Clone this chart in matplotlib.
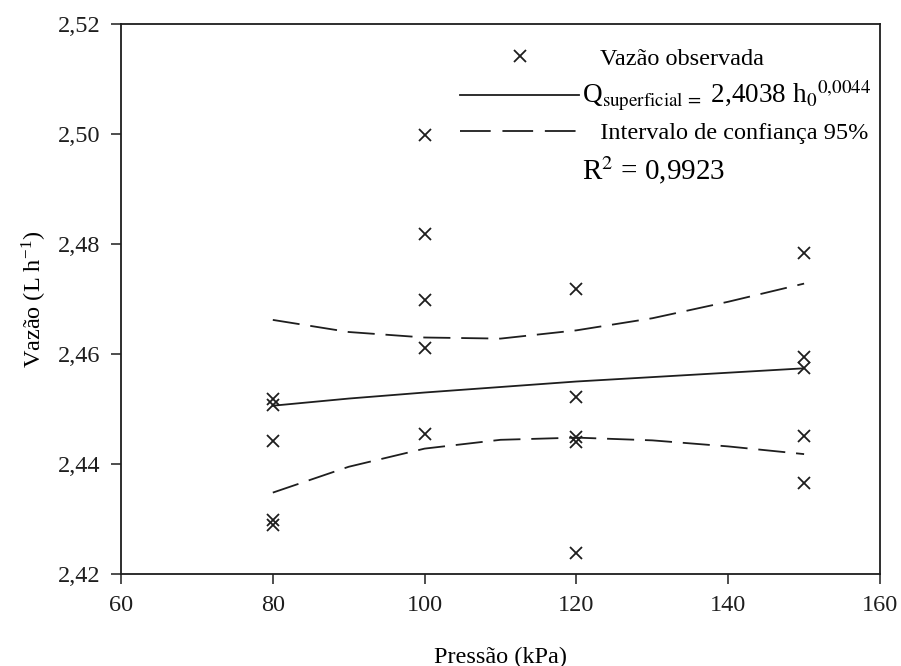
import matplotlib
matplotlib.use("Agg")
import matplotlib.pyplot as plt
from matplotlib.lines import Line2D
from matplotlib.ticker import FuncFormatter

plt.rcParams['font.family'] = ['Liberation Serif', 'DejaVu Serif']
plt.rcParams['mathtext.fontset'] = 'stix'

# observed flow (L/h) per pressure (kPa)
obs_x = [80, 80, 80, 80, 80,
         100, 100, 100, 100, 100,
         120, 120, 120, 120, 120,
         150, 150, 150, 150, 150]
obs_y = [2.4519, 2.4507, 2.4441, 2.4299, 2.4289,
         2.4998, 2.4818, 2.4698, 2.4611, 2.4454,
         2.4718, 2.4521, 2.4450, 2.4440, 2.4239,
         2.4784, 2.4595, 2.4574, 2.4451, 2.4365]

# fitted curve and 95% confidence band
fit_x = [80, 90, 100, 110, 120, 130, 140, 150]
fit_y = [2.4506, 2.4519, 2.4530, 2.4540, 2.4550, 2.4558, 2.4566, 2.4574]
ci_up = [2.4662, 2.4640, 2.4630, 2.4628, 2.4643, 2.4665, 2.4695, 2.4728]
ci_lo = [2.4348, 2.4395, 2.4428, 2.4444, 2.4448, 2.4443, 2.4432, 2.4418]

xticks = [60, 80, 100, 120, 140, 160]
yticks = [2.42, 2.44, 2.46, 2.48, 2.50, 2.52]

ink = '#1e1e1e'
fig = plt.figure(figsize=(9.01, 6.66), dpi=100)
ax = fig.add_axes([0.1343, 0.1381, 0.8424, 0.8259])

ax.plot(obs_x, obs_y, linestyle='none', marker='x', ms=9, mew=1.3, color=ink)
ax.plot(fit_x, fit_y, color=ink, lw=1.3)
ax.plot(fit_x, ci_up, color=ink, lw=1.3, dashes=(15, 6))
ax.plot(fit_x, ci_lo, color=ink, lw=1.3, dashes=(15, 6))

ax.set_xlim(60, 160)
ax.set_ylim(2.42, 2.52)
ax.set_xticks(xticks)
ax.set_yticks(yticks)
ax.yaxis.set_major_formatter(FuncFormatter(lambda v, p: ('%.2f' % v).replace('.', ',')))
ax.tick_params(direction='out', length=7, width=1.1, labelsize=17.5, colors=ink)
ax.tick_params(axis='x', pad=8)
ax.tick_params(axis='y', pad=8)
for s in ax.spines.values():
    s.set_linewidth(1.3)
    s.set_color(ink)

ax.set_xlabel('Pressão (kPa)', fontsize=17.5, labelpad=22)
ax.set_ylabel('Vazão (L h$^{\\mathregular{-1}}$)', fontsize=17.5, labelpad=6)

handles = [
    Line2D([], [], linestyle='none', marker='x', ms=9, mew=1.3, color=ink),
    Line2D([], [], color=ink, lw=1.3),
    Line2D([], [], color=ink, lw=1.3, dashes=(17, 6.5)),
    Line2D([], [], linestyle='none'),
]
labels = [
    '   Vazão observada',
    r'Q$_{\mathrm{superficial}\,=}$ 2,4038 h$_0{}^{\mathrm{0{,}0044}}$',
    '   Intervalo de confiança 95%',
    r'R$^2$ = 0,9923',
]
leg = ax.legend(handles, labels, loc='upper left', bbox_to_anchor=(0.447, 0.957),
                frameon=False, fontsize=17.5, handlelength=4.9, handletextpad=0.1,
                labelspacing=0.38, borderpad=0, borderaxespad=0)
leg.get_texts()[1].set_fontsize(19.5)
leg.get_texts()[3].set_fontsize(21)

fig.savefig('out.png', dpi=100)
